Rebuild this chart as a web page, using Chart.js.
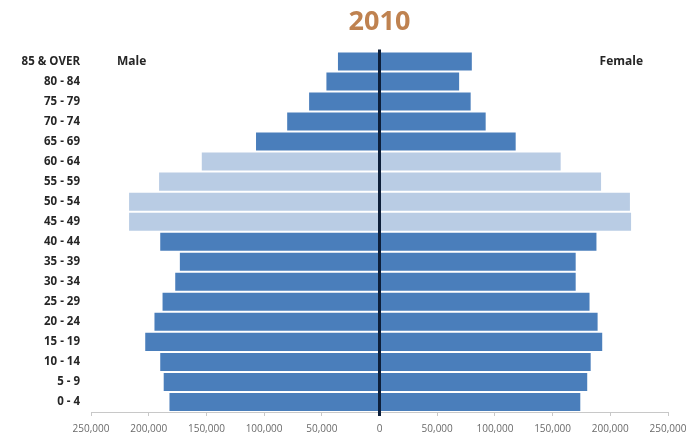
<!DOCTYPE html>
<html>
<head>
<meta charset="utf-8">
<script src="https://cdn.jsdelivr.net/npm/chart.js@4.4.1/dist/chart.umd.min.js"></script>
<style>
  html, body { margin: 0; padding: 0; background: #ffffff; }
  #wrap { width: 687px; height: 438px; position: relative; }
</style>
</head>
<body>
<div id="wrap"><canvas id="c" width="687" height="438"></canvas></div>
<script>
// ---- data ----
const chartTitle = '2010';
const ageGroups = ['85 & OVER', '80 - 84', '75 - 79', '70 - 74', '65 - 69', '60 - 64', '55 - 59',
  '50 - 54', '45 - 49', '40 - 44', '35 - 39', '30 - 34', '25 - 29', '20 - 24', '15 - 19',
  '10 - 14', '5 - 9', '0 - 4'];
const maleValues = [36000, 46000, 61000, 80000, 107000, 154000, 191000, 217000, 217000,
  190000, 173000, 177000, 188000, 195000, 203000, 190000, 187000, 182000];
const femaleValues = [80000, 69000, 79000, 92000, 118000, 157000, 192000, 217000, 218000,
  188000, 170000, 170000, 182000, 189000, 193000, 183000, 180000, 174000];
// age groups highlighted with the lighter shade (baby-boom cohort)
const highlightedGroups = ['60 - 64', '55 - 59', '50 - 54', '45 - 49'];
const sideLabels = ['Male', 'Female'];
const axisMin = -250000, axisMax = 250000, axisStep = 50000;

// ---- styles ----
const DARK = '#4a7ebb';
const LIGHT = '#b9cce4';
const barColors = ageGroups.map(g => highlightedGroups.includes(g) ? LIGHT : DARK);
const FONT = "'Open Sans', 'DejaVu Sans', sans-serif";

const zeroLinePlugin = {
  id: 'zeroLine',
  afterDatasetsDraw(chart) {
    const { ctx, chartArea, scales } = chart;
    const x0 = scales.x.getPixelForValue(0);
    ctx.save();
    ctx.strokeStyle = '#0d1f3a';
    ctx.lineWidth = 3;
    ctx.beginPath();
    ctx.moveTo(x0, chartArea.top - 2);
    ctx.lineTo(x0, chartArea.bottom + 4);
    ctx.stroke();
    ctx.restore();
  }
};

const sideLabelPlugin = {
  id: 'sideLabels',
  afterDraw(chart) {
    const { ctx, chartArea, scales } = chart;
    const y = scales.y.getPixelForValue(0);
    ctx.save();
    ctx.font = "bold 12px " + FONT;
    ctx.fillStyle = '#262626';
    ctx.textBaseline = 'middle';
    ctx.textAlign = 'left';
    ctx.fillText(sideLabels[0], chartArea.left + 26, y);
    ctx.textAlign = 'right';
    ctx.fillText(sideLabels[1], chartArea.right - 25, y);
    ctx.restore();
  }
};

new Chart(document.getElementById('c'), {
  type: 'bar',
  data: {
    labels: ageGroups,
    datasets: [
      { label: sideLabels[0], data: maleValues.map(v => -v), backgroundColor: barColors,
        barPercentage: 0.9, categoryPercentage: 1.0 },
      { label: sideLabels[1], data: femaleValues, backgroundColor: barColors,
        barPercentage: 0.9, categoryPercentage: 1.0 }
    ]
  },
  options: {
    indexAxis: 'y',
    responsive: false,
    animation: false,
    devicePixelRatio: 1,
    layout: { padding: { left: 0, right: 19, top: 0, bottom: 0 } },
    plugins: {
      legend: { display: false },
      tooltip: { enabled: false },
      title: {
        display: true,
        fullSize: false,
        text: chartTitle,
        color: '#bf8250',
        font: { family: FONT, size: 27, weight: 'bold' },
        padding: { top: 6, bottom: 13 }
      }
    },
    scales: {
      x: {
        stacked: true,
        min: axisMin,
        max: axisMax,
        afterFit(s) { s.height = 26; s.paddingRight = 0; s.paddingLeft = 0; },
        ticks: {
          stepSize: axisStep,
          maxRotation: 0,
          autoSkip: false,
          padding: 7,
          color: '#6a6a6a',
          font: { family: FONT, size: 10 },
          callback: v => Math.abs(v).toLocaleString('en-US')
        },
        grid: { drawOnChartArea: false, color: '#c8c8c8', tickLength: 4 },
        border: { display: true, color: '#c8c8c8', width: 1 }
      },
      y: {
        stacked: true,
        afterFit(s) { s.width = 91; },
        ticks: {
          padding: 11,
          color: '#262626',
          font: { family: FONT, size: 11.5, weight: 'bold' }
        },
        grid: { display: false, drawTicks: false },
        border: { display: false }
      }
    }
  },
  plugins: [zeroLinePlugin, sideLabelPlugin]
});
</script>
</body>
</html>
